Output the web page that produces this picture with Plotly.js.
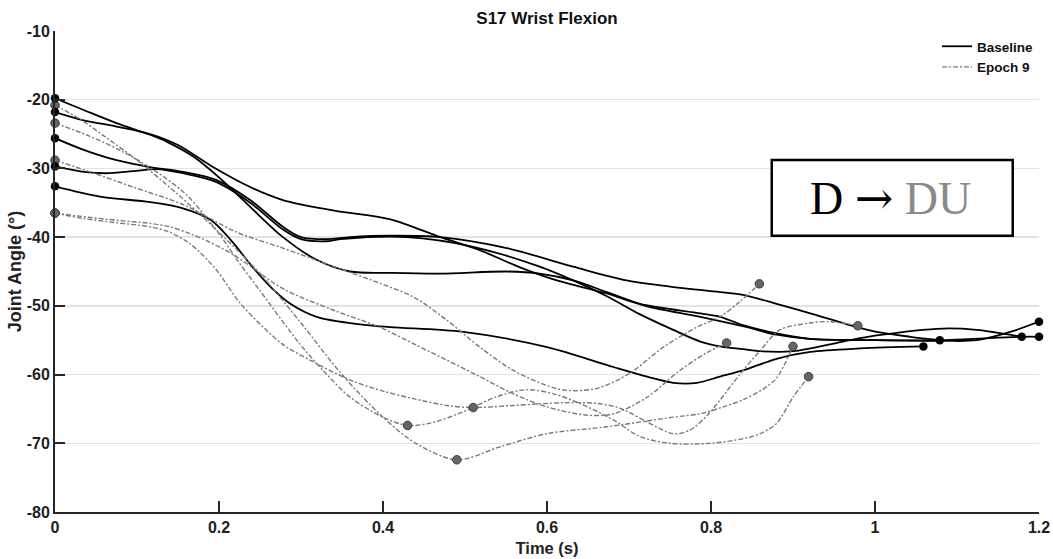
<!DOCTYPE html>
<html><head><meta charset="utf-8">
<script src="https://cdn.plot.ly/plotly-3.0.1.min.js"></script>
<style>html,body{margin:0;padding:0;background:#fff;} #chart{width:1053px;height:559px;}</style>
</head><body><div id="chart"></div>
<script>
// ---- Baseline curves (Time s, Joint angle deg) ----
const b1x = [0, 0.035, 0.075, 0.116, 0.136, 0.169, 0.2, 0.238, 0.278, 0.319, 0.36, 0.409, 0.47, 0.551, 0.591, 0.632, 0.673, 0.72, 0.787, 0.84, 0.88, 0.92, 1.0, 1.08, 1.12, 1.18, 1.2];
const b1y = [-19.8, -21.5, -23.4, -25.1, -26.1, -28.3, -31.3, -35.6, -40.0, -43.3, -45.0, -45.2, -45.3, -45.0, -45.3, -46.3, -48.0, -50.0, -51.6, -53.0, -54.2, -54.8, -55.0, -55.0, -54.8, -54.5, -54.5];
const b2x = [0, 0.035, 0.075, 0.116, 0.15, 0.19, 0.238, 0.278, 0.339, 0.409, 0.47, 0.518, 0.567, 0.612, 0.673, 0.713, 0.787, 0.811, 0.839, 0.88, 0.921, 1.002, 1.083, 1.124, 1.165, 1.2];
const b2y = [-21.8, -23.0, -23.9, -25.0, -26.6, -29.6, -32.7, -34.6, -36.1, -37.4, -40.0, -41.9, -44.4, -46.3, -48.2, -49.7, -51.1, -51.6, -52.8, -54.0, -54.8, -55.0, -55.1, -55.0, -53.8, -52.3];
const b3x = [0, 0.035, 0.075, 0.116, 0.156, 0.197, 0.238, 0.278, 0.3, 0.33, 0.36, 0.409, 0.47, 0.551, 0.632, 0.697, 0.75, 0.811, 0.839, 0.88, 0.921, 0.978, 1.002, 1.043, 1.079];
const b3y = [-25.6, -27.3, -28.8, -29.8, -30.5, -31.7, -34.6, -38.5, -40.0, -40.3, -40.0, -39.8, -40.0, -41.6, -44.3, -46.3, -47.2, -48.0, -48.4, -49.7, -51.1, -53.1, -53.8, -54.5, -55.0];
const b4x = [0, 0.035, 0.063, 0.095, 0.124, 0.156, 0.197, 0.238, 0.278, 0.3, 0.33, 0.348, 0.429, 0.51, 0.591, 0.632, 0.673, 0.713, 0.754, 0.787, 0.811, 0.839, 0.86, 0.9, 0.961, 1.002, 1.083, 1.124, 1.179];
const b4y = [-29.7, -30.5, -30.7, -30.4, -30.1, -30.7, -32.0, -35.0, -38.9, -40.3, -40.6, -40.3, -40.0, -41.4, -44.3, -46.3, -48.6, -51.2, -53.5, -55.2, -55.9, -56.3, -56.6, -56.6, -55.2, -54.3, -53.3, -53.5, -54.5];
const b5x = [0, 0.055, 0.116, 0.156, 0.19, 0.215, 0.242, 0.265, 0.287, 0.319, 0.372, 0.409, 0.498, 0.6, 0.681, 0.722, 0.754, 0.783, 0.811, 0.839, 0.88, 0.921, 0.982, 1.059];
const b5y = [-32.6, -34.1, -34.9, -35.8, -37.5, -40.5, -44.5, -47.5, -49.7, -51.6, -52.7, -53.1, -53.8, -56.0, -58.9, -60.3, -61.2, -61.2, -60.3, -59.4, -57.7, -56.7, -56.2, -55.9];

// ---- Epoch 9 curves ----
const e1x = [0, 0.03, 0.06, 0.1, 0.15, 0.2, 0.25, 0.3, 0.35, 0.4, 0.44, 0.49, 0.543, 0.6, 0.673, 0.754, 0.787, 0.815, 0.84, 0.865, 0.88, 0.9];
const e1y = [-20.8, -22.8, -25.3, -28.8, -33.8, -39.3, -45.3, -52.5, -60.0, -66.2, -70.0, -72.4, -70.5, -68.6, -67.6, -66.2, -65.7, -64.7, -63.6, -62.0, -60.5, -55.9];
const e2x = [0, 0.04, 0.08, 0.12, 0.16, 0.2, 0.222, 0.25, 0.299, 0.33, 0.36, 0.4, 0.43, 0.46, 0.498, 0.539, 0.575, 0.608, 0.64, 0.681, 0.713, 0.75, 0.8, 0.84, 0.86, 0.88, 0.9, 0.919];
const e2y = [-23.4, -25.2, -27.4, -30.2, -33.8, -39.5, -43.3, -47.8, -55.6, -59.8, -63.3, -66.2, -67.4, -67.0, -65.4, -63.2, -62.2, -62.8, -64.2, -66.6, -69.0, -70.0, -70.0, -69.3, -68.6, -67.1, -63.3, -60.3];
const e3x = [0, 0.05, 0.095, 0.157, 0.222, 0.278, 0.352, 0.396, 0.437, 0.478, 0.518, 0.559, 0.6, 0.624, 0.661, 0.701, 0.742, 0.783, 0.811, 0.835, 0.859];
const e3y = [-28.8, -30.8, -32.7, -35.3, -39.3, -41.6, -44.8, -46.7, -48.7, -52.1, -56.0, -59.4, -61.6, -62.3, -62.0, -59.8, -56.0, -53.1, -51.6, -49.4, -46.8];
const e4x = [0, 0.04, 0.08, 0.116, 0.14, 0.165, 0.19, 0.218, 0.238, 0.278, 0.339, 0.396, 0.437, 0.478, 0.518, 0.559, 0.6, 0.648, 0.681, 0.722, 0.762, 0.795, 0.819];
const e4y = [-36.5, -37.1, -37.6, -38.0, -38.5, -39.5, -40.8, -42.6, -44.2, -47.5, -50.6, -53.1, -55.5, -57.9, -60.3, -62.8, -64.7, -65.9, -65.7, -63.3, -59.4, -56.8, -55.4];
const e5x = [0, 0.035, 0.075, 0.116, 0.14, 0.165, 0.195, 0.225, 0.254, 0.28, 0.311, 0.36, 0.4, 0.437, 0.478, 0.51, 0.559, 0.62, 0.661, 0.689, 0.722, 0.754, 0.774, 0.795, 0.811, 0.835, 0.86, 0.884, 0.92, 0.945, 0.979];
const e5y = [-36.5, -37.3, -37.9, -38.5, -39.3, -41.0, -44.5, -49.5, -53.1, -55.8, -57.9, -60.8, -62.4, -63.5, -64.5, -64.8, -64.5, -64.1, -64.2, -64.9, -66.9, -68.6, -68.1, -66.0, -63.7, -60.0, -56.5, -53.5, -52.5, -52.3, -52.9];

// extra event markers on Epoch 9 curves
const midX = [0.43, 0.49, 0.51];
const midY = [-67.4, -72.4, -64.8];

const xTicks = [0, 0.2, 0.4, 0.6, 0.8, 1, 1.2];
const xTickText = ['0', '0.2', '0.4', '0.6', '0.8', '1', '1.2'];
const yTicks = [-80, -70, -60, -50, -40, -30, -20, -10];
const yTickText = ['-80', '-70', '-60', '-50', '-40', '-30', '-20', '-10'];

const baseline = [[b1x, b1y], [b2x, b2y], [b3x, b3y], [b4x, b4y], [b5x, b5y]];
const epoch = [[e1x, e1y], [e2x, e2y], [e3x, e3y], [e4x, e4y], [e5x, e5y]];

const traces = [];
baseline.forEach((c, i) => traces.push({
  x: c[0], y: c[1], mode: 'lines', name: 'Baseline', legendgroup: 'b', showlegend: i === 0,
  line: {color: '#000', width: 1.8, shape: 'spline', smoothing: 0.9}, hoverinfo: 'skip'
}));
epoch.forEach((c, i) => traces.push({
  x: c[0], y: c[1], mode: 'lines', name: 'Epoch 9', legendgroup: 'e', showlegend: i === 0,
  line: {color: '#7a7a7a', width: 1.4, dash: '5px,2px,2px,2px', shape: 'spline', smoothing: 0.9}, hoverinfo: 'skip'
}));
function ends(list) {
  const xs = [], ys = [];
  list.forEach(c => { xs.push(c[0][0], c[0][c[0].length - 1]); ys.push(c[1][0], c[1][c[1].length - 1]); });
  return [xs, ys];
}
const ge = ends(epoch);
traces.push({
  x: ge[0].concat(midX), y: ge[1].concat(midY), mode: 'markers', showlegend: false, cliponaxis: false,
  marker: {color: '#666666', size: 8.5, line: {color: '#3c3c3c', width: 1}}, hoverinfo: 'skip'
});
const be = ends(baseline);
traces.push({
  x: be[0], y: be[1], mode: 'markers', showlegend: false, cliponaxis: false,
  marker: {color: '#000', size: 8.5}, hoverinfo: 'skip'
});

const FAM = 'Liberation Sans, Arial, sans-serif';
const axFont = {family: FAM, size: 16, color: '#1e1e1e', weight: 'bold'};
const layout = {
  width: 1053, height: 559,
  margin: {l: 55, r: 14, t: 31, b: 47},
  paper_bgcolor: '#fff', plot_bgcolor: '#fff',
  title: {text: '<b>S17 Wrist Flexion</b>', font: {family: FAM, size: 17, color: '#111'},
    x: 0.5, xref: 'paper', xanchor: 'center', y: 1 - 18.5 / 559, yref: 'container', yanchor: 'middle'},
  xaxis: {
    range: [0, 1.2], tickvals: xTicks, ticktext: xTickText, ticks: 'inside', ticklen: 11, tickwidth: 2, tickcolor: '#262626',
    showline: true, linecolor: '#262626', linewidth: 2, showgrid: false, zeroline: false, tickfont: axFont,
    title: {text: '<b>Time (s)</b>', font: {family: FAM, size: 16.5, color: '#222'}, standoff: 7}
  },
  yaxis: {
    range: [-80, -10], tickvals: yTicks, ticktext: yTickText, ticks: 'inside', ticklen: 10, tickwidth: 2, tickcolor: '#262626',
    showline: true, linecolor: '#262626', linewidth: 2, showgrid: true, gridcolor: '#e3e3e3', gridwidth: 1.5,
    zeroline: false, tickfont: axFont,
    title: {text: '<b>Joint Angle (°)</b>', font: {family: FAM, size: 18, color: '#222'}, standoff: 0}
  },
  legend: {x: 1.0, xanchor: 'right', y: 1.0, yanchor: 'top', bgcolor: 'rgba(0,0,0,0)', itemwidth: 30,
    font: {family: FAM, size: 13.5, color: '#111', weight: 'bold'}, tracegroupgap: 0},
  shapes: [{type: 'rect', xref: 'paper', yref: 'paper', x0: 0.7284, x1: 0.9733, y0: 0.5744, y1: 0.7318,
    line: {color: '#000', width: 2.5}, fillcolor: '#fff', layer: 'above'}],
  annotations: [{xref: 'paper', yref: 'paper', x: 0.849, y: 0.652, xanchor: 'center', yanchor: 'middle', showarrow: false,
    text: '<span style="color:#000">D </span><span style="font-family:DejaVu Serif;color:#000">→</span><span style="color:#8a8a8a"> DU</span>',
    font: {family: 'Liberation Serif, Times New Roman, serif', size: 46, color: '#000'}}]
};
Plotly.newPlot('chart', traces, layout, {staticPlot: true, displayModeBar: false});
</script></body></html>
